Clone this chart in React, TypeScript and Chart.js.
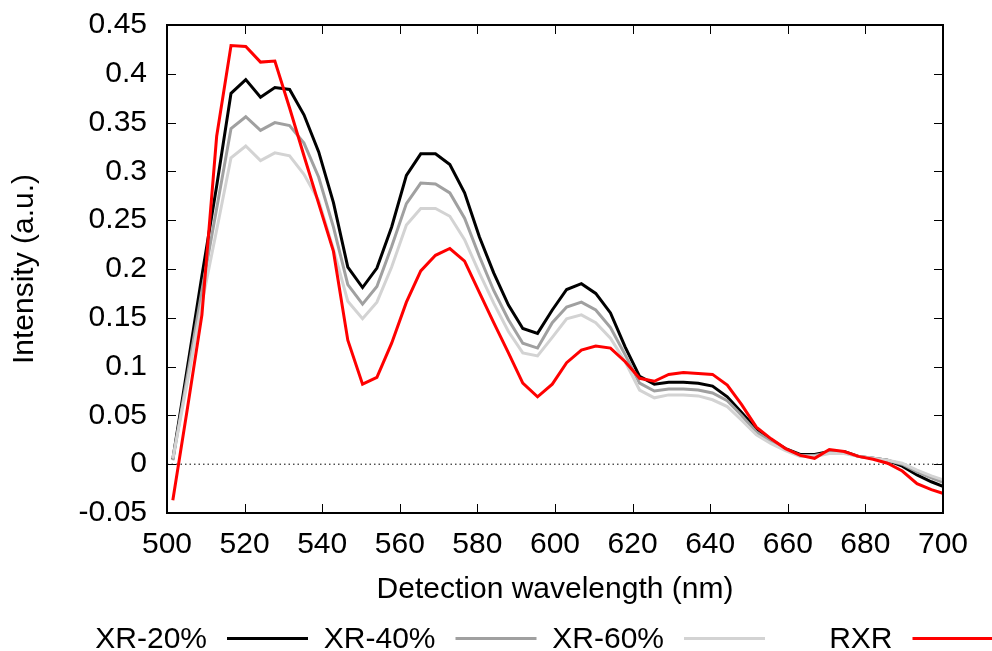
import { useEffect, useRef } from 'react';
import { Chart, registerables } from 'chart.js';

Chart.register(...registerables);

const wavelengths = [
  501.5, 505.3, 509.0, 512.8, 516.5, 520.3, 524.1, 527.8, 531.6, 535.3,
  539.1, 542.9, 546.6, 550.4, 554.1, 557.9, 561.7, 565.4, 569.2, 572.9,
  576.7, 580.5, 584.2, 588.0, 591.7, 595.5, 599.3, 603.0, 606.8, 610.5,
  614.3, 618.1, 621.8, 625.6, 629.3, 633.1, 636.9, 640.6, 644.4, 648.1,
  651.9, 655.7, 659.4, 663.2, 666.9, 670.7, 674.5, 678.2, 682.0, 685.7,
  689.5, 693.3, 697.0, 700.8,
];

const xr20 = [
  0.005, 0.100, 0.193, 0.285, 0.380, 0.394, 0.376, 0.386, 0.384, 0.358,
  0.320, 0.268, 0.202, 0.181, 0.201, 0.243, 0.296, 0.318, 0.318, 0.307,
  0.278, 0.233, 0.196, 0.163, 0.139, 0.134, 0.158, 0.179, 0.185, 0.175,
  0.155, 0.120, 0.090, 0.082, 0.084, 0.084, 0.083, 0.080, 0.069, 0.053,
  0.036, 0.025, 0.016, 0.010, 0.010, 0.013, 0.013, 0.008, 0.006, 0.004,
  -0.002, -0.011, -0.018, -0.024,
];

const xr40 = [
  0.004, 0.092, 0.178, 0.262, 0.344, 0.356, 0.342, 0.350, 0.347, 0.329,
  0.294, 0.243, 0.184, 0.164, 0.182, 0.223, 0.267, 0.288, 0.287, 0.278,
  0.252, 0.213, 0.178, 0.148, 0.124, 0.119, 0.145, 0.161, 0.166, 0.158,
  0.140, 0.112, 0.083, 0.075, 0.077, 0.077, 0.076, 0.073, 0.065, 0.050,
  0.033, 0.023, 0.015, 0.009, 0.009, 0.012, 0.012, 0.008, 0.006, 0.004,
  0.000, -0.008, -0.014, -0.020,
];

const xr60 = [
  0.006, 0.085, 0.165, 0.240, 0.314, 0.326, 0.311, 0.319, 0.316, 0.297,
  0.270, 0.220, 0.167, 0.149, 0.166, 0.202, 0.245, 0.262, 0.262, 0.254,
  0.230, 0.196, 0.165, 0.136, 0.114, 0.111, 0.130, 0.149, 0.153, 0.145,
  0.129, 0.105, 0.076, 0.068, 0.071, 0.071, 0.070, 0.066, 0.059, 0.045,
  0.030, 0.021, 0.014, 0.008, 0.008, 0.011, 0.011, 0.008, 0.006, 0.004,
  0.001, -0.006, -0.012, -0.017,
];

const rxr = [
  -0.037, 0.058, 0.153, 0.336, 0.429, 0.428, 0.412, 0.413, 0.365, 0.316,
  0.267, 0.218, 0.127, 0.082, 0.089, 0.124, 0.166, 0.198, 0.214, 0.221,
  0.208, 0.176, 0.145, 0.114, 0.083, 0.069, 0.082, 0.104, 0.117, 0.121,
  0.119, 0.105, 0.088, 0.085, 0.092, 0.094, 0.093, 0.092, 0.081, 0.061,
  0.038, 0.026, 0.016, 0.009, 0.006, 0.015, 0.013, 0.008, 0.005, 0.001,
  -0.007, -0.020, -0.026, -0.031,
];

const seriesNames = ['XR-20%', 'XR-40%', 'XR-60%', 'RXR'];
const seriesValues = [xr20, xr40, xr60, rxr];
const seriesColors = ['#000000', '#a0a0a0', '#d3d3d3', '#ff0000'];

const xTickValues = [500, 520, 540, 560, 580, 600, 620, 640, 660, 680, 700];
const xTickLabels = ['500', '520', '540', '560', '580', '600', '620', '640', '660', '680', '700'];
const yTickValues = [-0.05, 0, 0.05, 0.1, 0.15, 0.2, 0.25, 0.3, 0.35, 0.4, 0.45];
const yTickLabels = ['-0.05', '0', '0.05', '0.1', '0.15', '0.2', '0.25', '0.3', '0.35', '0.4', '0.45'];

const xTitle = 'Detection wavelength (nm)';
const yTitle = 'Intensity (a.u.)';

const FONT_FAMILY = '"Liberation Sans", Arial, Helvetica, sans-serif';
const FONT_SIZE = 30;

const framePlugin = {
  id: 'gnuplotFrame',
  afterDraw(chart: any) {
    const { ctx, chartArea } = chart;
    const { left, right, top, bottom } = chartArea;
    const xs = chart.scales.x;
    const ys = chart.scales.y;
    const tl = 9;
    ctx.save();
    ctx.strokeStyle = '#000';
    ctx.lineWidth = 1;
    ctx.beginPath();
    for (const v of xTickValues) {
      const px = Math.round(xs.getPixelForValue(v)) + 0.5;
      ctx.moveTo(px, bottom);
      ctx.lineTo(px, bottom - tl);
      ctx.moveTo(px, top);
      ctx.lineTo(px, top + tl);
    }
    for (const v of yTickValues) {
      const py = Math.round(ys.getPixelForValue(v)) + 0.5;
      ctx.moveTo(left, py);
      ctx.lineTo(left + tl, py);
      ctx.moveTo(right, py);
      ctx.lineTo(right - tl, py);
    }
    ctx.stroke();
    ctx.lineWidth = 2;
    ctx.strokeRect(left, top, right - left, bottom - top);
    ctx.restore();
  },
};

const legendPlugin = {
  id: 'gnuplotLegend',
  afterDraw(chart: any) {
    const { ctx } = chart;
    ctx.save();
    ctx.font = `${FONT_SIZE}px ${FONT_FAMILY}`;
    ctx.textAlign = 'right';
    ctx.textBaseline = 'alphabetic';
    const firstRight = 207;
    const step = 228.5;
    const gap = 20;
    const sampleLen = 81;
    const baseY = 648;
    const lineY = 638.5;
    seriesNames.forEach((name, i) => {
      const tr = firstRight + i * step;
      ctx.fillStyle = '#000';
      ctx.fillText(name, tr, baseY);
      ctx.strokeStyle = seriesColors[i];
      ctx.lineWidth = 3;
      ctx.beginPath();
      ctx.moveTo(tr + gap, lineY);
      ctx.lineTo(tr + gap + sampleLen, lineY);
      ctx.stroke();
    });
    ctx.restore();
  },
};

export default function App() {
  const canvasRef = useRef<HTMLCanvasElement | null>(null);

  useEffect(() => {
    document.body.style.margin = '0';
    const canvas = canvasRef.current;
    if (!canvas) return;

    const datasets: any[] = seriesNames.map((name, i) => ({
      label: name,
      data: wavelengths.map((w, j) => ({ x: w, y: seriesValues[i][j] })),
      borderColor: seriesColors[i],
      backgroundColor: seriesColors[i],
      borderWidth: 3,
      pointRadius: 0,
      tension: 0,
      fill: false,
      order: 4 - i,
    }));
    datasets.push({
      label: 'zero',
      data: [
        { x: xTickValues[0], y: 0 },
        { x: xTickValues[xTickValues.length - 1], y: 0 },
      ],
      borderColor: '#000',
      borderWidth: 1,
      borderDash: [1.5, 3],
      pointRadius: 0,
      fill: false,
      order: 10,
    });

    const chart = new Chart(canvas, {
      type: 'line',
      data: { datasets },
      plugins: [framePlugin, legendPlugin],
      options: {
        animation: false,
        responsive: false,
        devicePixelRatio: 1,
        layout: { padding: { top: 25, right: 49, bottom: 0, left: 0 } },
        plugins: {
          legend: { display: false },
          tooltip: { enabled: false },
        },
        scales: {
          x: {
            type: 'linear',
            min: 500,
            max: 700,
            grid: { display: false, drawTicks: false },
            border: { display: false },
            afterBuildTicks: (scale: any) => {
              scale.ticks = xTickValues.map((v) => ({ value: v }));
            },
            afterFit: (scale: any) => {
              scale.height = 138;
              scale.paddingLeft = 0;
              scale.paddingRight = 0;
            },
            ticks: {
              padding: 14,
              color: '#000',
              maxRotation: 0,
              autoSkip: false,
              font: { family: FONT_FAMILY, size: FONT_SIZE },
              callback: (_v: any, i: number) => xTickLabels[i],
            },
            title: {
              display: true,
              text: xTitle,
              color: '#000',
              font: { family: FONT_FAMILY, size: FONT_SIZE },
              padding: { top: 0, bottom: 43 },
            },
          },
          y: {
            type: 'linear',
            min: -0.05,
            max: 0.45,
            grid: { display: false, drawTicks: false },
            border: { display: false },
            afterBuildTicks: (scale: any) => {
              scale.ticks = yTickValues.map((v) => ({ value: v }));
            },
            afterFit: (scale: any) => {
              scale.width = 167;
              scale.paddingTop = 0;
              scale.paddingBottom = 0;
            },
            ticks: {
              padding: 20,
              color: '#000',
              autoSkip: false,
              font: { family: FONT_FAMILY, size: FONT_SIZE },
              callback: (_v: any, i: number) => yTickLabels[i],
            },
            title: {
              display: true,
              text: yTitle,
              color: '#000',
              font: { family: FONT_FAMILY, size: FONT_SIZE },
              padding: { top: 7, bottom: 0 },
            },
          },
        },
      },
    });

    return () => chart.destroy();
  }, []);

  return (
    <canvas
      ref={canvasRef}
      width={992}
      height={651}
      style={{ display: 'block', width: '992px', height: '651px' }}
    />
  );
}
